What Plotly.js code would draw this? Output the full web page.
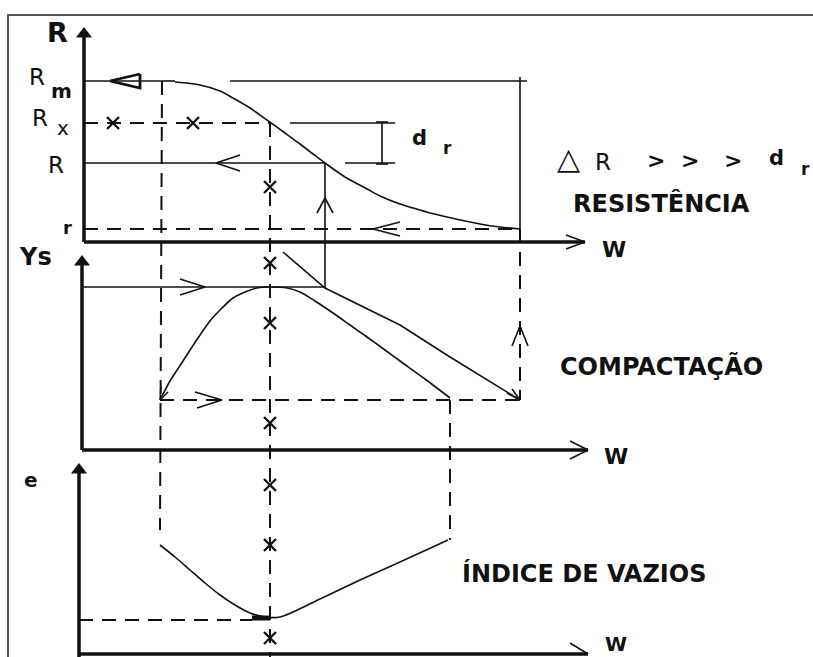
<!DOCTYPE html>
<html><head><meta charset="utf-8">
<script src="https://cdn.plot.ly/plotly-3.0.1.min.js"></script>
<style>html,body{margin:0;padding:0;background:#fff}#chart{width:813px;height:657px}</style>
</head><body><div id="chart"></div>
<script>
// Resistance curve (panel 1)
const resistW = [175,200,220,233,250,267,285,300,313,325,345,367,380,400,413,430,447,465,480,500,520];
const resistR = [82,85,91,98,108,120,133,144,154,163,177,189,196,204,208,213,217,221,224,227,229];
// Compaction curve (panel 2)
const compW = [161,170,183,196,210,222,233,245,257,270,287,300,315,333,350,367,385,400,425,450];
const compG = [398,381,361,341,321,308,298,292,288,287,288,292,301,313,325,337,350,361,379,398];
// Saturation line (panel 2)
const satW = [283,325,400,450,520];
const satG = [252,288,325,357,400];
// Void ratio curve (panel 3)
const voidW = [160,175,190,205,220,235,250,265,280,320,360,400,448];
const voidE = [545,557,570,583,595,605,613,617,617,599,580,562,540];
// Points marked with x on the guide lines
const markW = [113,193,270,270,270,270,270,270,270];
const markY = [123,123,187,263,323,423,485,545,638];

// Solid guide segments
const solidX = [84,163,null,163,175,null,230,527,null,520,520,null,290,395,null,382,382,null,376,388,null,376,388,null,84,325,null,345,395,null,325,325,null,82,325];
const solidY = [81,81,null,81,81,null,81,81,null,77,232,null,123,123,null,123,163,null,122,122,null,164,164,null,163,163,null,163,163,null,163,288,null,287,287];
// Dashed guide segments
const dashX = [84,270,null,84,520,null,162,160,null,270,270,null,520,520,null,160,520,null,450,450,null,79,252];
const dashY = [123,123,null,229,229,null,81,530,null,123,657,null,229,400,null,400,400,null,400,540,null,620,620];
// Axes
const axisX = [84,84,null,84,585,null,82,82,null,82,588,null,79,79,null,79,588];
const axisY = [36,242,null,242,242,null,264,450,null,450,450,null,472,657,null,654,654];
const axisTipX = [84,82,79];
const axisTipY = [34,262,470];
// Open arrowheads
const arrowX = [566,585,566,null,570,588,570,null,570,588,null,
  240,216,240,null,400,373,400,null,317,325,333,null,
  180,205,180,null,195,222,197,null,512,520,528,null,
  507,520,512,null,160,161,null,160,168,null];
const arrowY = [235,242,249,null,441,450,459,null,643,654,null,
  155,163,171,null,222,229,236,null,213,198,213,null,
  279,287,295,null,392,400,408,null,346,326,346,null,
  393,400,389,null,400,386,null,400,392,null];
// Arrow on the R_m line
const rmArrowX = [140,110,140,140];
const rmArrowY = [74,81,88,74];
// Frame
const frameX = [8,8,813];
const frameY = [657,15,15];

const ink = '#111';
const dash = '14px,9px';
const traces = [
  {x:frameX,y:frameY,mode:'lines',line:{color:'#555',width:2}},
  {x:axisX,y:axisY,mode:'lines',line:{color:ink,width:3.5}},
  {x:axisTipX,y:axisTipY,mode:'markers',marker:{symbol:'triangle-up',size:14,color:ink}},
  {x:solidX,y:solidY,mode:'lines',line:{color:ink,width:1.6}},
  {x:dashX,y:dashY,mode:'lines',line:{color:ink,width:2,dash:dash}},
  {x:resistW,y:resistR,mode:'lines',line:{color:ink,width:1.6,shape:'spline',smoothing:0.8}},
  {x:compW,y:compG,mode:'lines',line:{color:ink,width:1.6,shape:'spline',smoothing:0.8}},
  {x:satW,y:satG,mode:'lines',line:{color:ink,width:1.6}},
  {x:voidW,y:voidE,mode:'lines',line:{color:ink,width:1.6,shape:'spline',smoothing:0.8}},
  {x:[252,270],y:[618,618],mode:'lines',line:{color:ink,width:5}},
  {x:arrowX,y:arrowY,mode:'lines',line:{color:ink,width:1.6}},
  {x:rmArrowX,y:rmArrowY,mode:'lines',line:{color:ink,width:2.8}},
  {x:markW,y:markY,mode:'markers',marker:{symbol:'x-thin',size:12,line:{color:ink,width:2.4}}}
];

const f = 'DejaVu Sans, sans-serif';
function ann(text,x,y,size,bold,extra){
  return Object.assign({text:bold?'<b>'+text+'</b>':text,x:x,y:y,xref:'x',yref:'y',showarrow:false,
    xanchor:'center',yanchor:'middle',font:{family:f,size:size,color:ink}},extra||{});
}
const annotations = [
  ann('R',57,32,27,true),
  ann('R',37,77,23,false),
  ann('m',61,91,20,true),
  ann('R',40,118,23,false),
  ann('x',63,128,20,false),
  ann('R',56,165,23,false),
  ann('r',67,227,18,true),
  ann('d',419,138,21,true),
  ann('r',447,148,17,true),
  ann('△',568,158,30,false),
  ann('R',603,162,23,false),
  ann('>',656,160,22,true),
  ann('>',690,160,22,true),
  ann('>',733,160,22,true),
  ann('d',776,158,21,true),
  ann('r',805,169,17,true),
  ann('RESISTÊNCIA',661,203,24,true),
  ann('W',614,249,22,true),
  ann('Ys',35,257,24,true),
  ann('COMPACTAÇÃO',661,366,24,true),
  ann('W',616,456,22,true),
  ann('e',31,480,20,true),
  ann('ÍNDICE DE VAZIOS',584,573,24,true),
  ann('W',616,644,20,true)
];

const layout = {
  width:813,height:657,margin:{l:0,r:0,t:0,b:0},
  paper_bgcolor:'#fff',plot_bgcolor:'#fff',showlegend:false,
  xaxis:{range:[0,813],visible:false,fixedrange:true},
  yaxis:{range:[657,0],visible:false,fixedrange:true},
  annotations:annotations
};
Plotly.newPlot('chart',traces,layout,{staticPlot:true,displayModeBar:false});
</script></body></html>
